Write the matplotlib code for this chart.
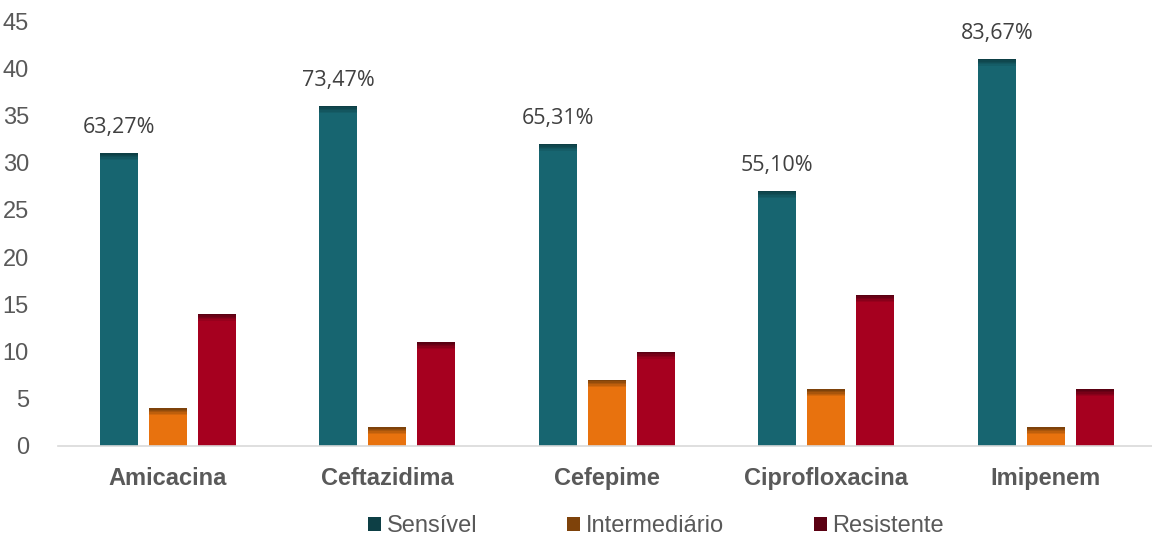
import matplotlib
matplotlib.use("Agg")
import matplotlib.pyplot as plt
from matplotlib.patches import Patch
import numpy as np

categories = ["Amicacina", "Ceftazidima", "Cefepime", "Ciprofloxacina", "Imipenem"]
sensivel = [31, 36, 32, 27, 41]
intermediario = [4, 2, 7, 6, 2]
resistente = [14, 11, 10, 16, 6]
pct_labels = ["63,27%", "73,47%", "65,31%", "55,10%", "83,67%"]
series_names = ["Sensível", "Intermediário", "Resistente"]

main_colors = ["#176570", "#E8720E", "#A6001F"]
top_colors = ["#0D3F45", "#7E420A", "#5A0012"]

W, H = 1152, 538
fig = plt.figure(figsize=(W / 100, H / 100), dpi=100)
ax = fig.add_axes([58 / W, 1 - 446 / H, 1097.5 / W, 425 / H])

x = np.arange(len(categories))
bw = 0.173
off = 0.223
series = [sensivel, intermediario, resistente]

def blend(c1, c2, t):
    a = np.array(matplotlib.colors.to_rgb(c1))
    b = np.array(matplotlib.colors.to_rgb(c2))
    return tuple(a * (1 - t) + b * t)

bevel = 0.9
nsteps = 6
for k, vals in enumerate(series):
    xs = x + (k - 1) * off
    ax.bar(xs, vals, width=bw, color=main_colors[k], edgecolor="none", zorder=2)
    for s in range(nsteps):
        t = s / (nsteps - 1)
        col = blend(top_colors[k], main_colors[k], t)
        bottoms = [v - bevel * (s + 1) / nsteps for v in vals]
        ax.bar(xs, [bevel / nsteps] * len(vals), bottom=bottoms, width=bw,
               color=col, edgecolor="none", zorder=3)

for i, v in enumerate(sensivel):
    ax.text(x[i] - off, v + 2.7, pct_labels[i], ha="center", va="center",
            fontsize=15.5, color="#404040", family="Open Sans")

ax.set_xlim(-0.5, 4.5)
ax.set_ylim(0, 45)
ax.set_yticks(range(0, 46, 5))
ax.set_xticks(x)
ax.set_xticklabels(categories, fontsize=17, fontweight="bold", color="#595959",
                   family="Liberation Sans")
ax.tick_params(axis="y", length=0, labelsize=17, labelcolor="#595959", pad=21)
ax.tick_params(axis="x", length=0, pad=15)
for lab in ax.get_yticklabels():
    lab.set_family("Liberation Sans")
for sp in ["top", "right", "left"]:
    ax.spines[sp].set_visible(False)
ax.spines["bottom"].set_color("#D9D9D9")
ax.spines["bottom"].set_linewidth(1.2)

handles = [Patch(facecolor=top_colors[k], edgecolor="none") for k in range(3)]
leg = fig.legend(handles, series_names, loc="center", bbox_to_anchor=(656 / W, 1 - 526 / H),
                 ncol=3, frameon=False, columnspacing=3.8,
                 handlelength=0.55, handleheight=0.55, handletextpad=0.25,
                 prop={"family": "Liberation Sans", "size": 17})
for t in leg.get_texts():
    t.set_color("#595959")

fig.savefig("out.png", dpi=100)
